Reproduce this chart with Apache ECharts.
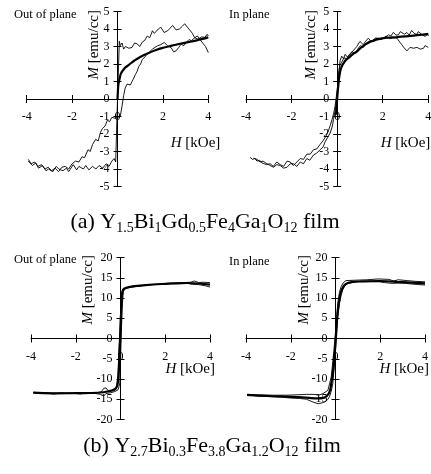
<!DOCTYPE html>
<html><head><meta charset="utf-8">
<script src="https://cdn.jsdelivr.net/npm/echarts@6.0.0/dist/echarts.min.js"></script>
<style>html,body{margin:0;padding:0;background:#fff}#c{width:431px;height:474px}</style>
</head><body><div id="c"></div>
<script>
// ---------- axis ranges / ticks ----------
const hAxis = {min: -4, max: 4, step: 2};
const mAxisA = {min: -5, max: 5, step: 1};
const mAxisB = {min: -20, max: 20, step: 5};

// ---------- texts ----------
const panelTitles = ['Out of plane', 'In plane', 'Out of plane', 'In plane'];
const captionA = '(a) Y{s|1.5}Bi{s|1}Gd{s|0.5}Fe{s|4}Ga{s|1}O{s|12} film';
const captionB = '(b) Y{s|2.7}Bi{s|0.3}Fe{s|3.8}Ga{s|1.2}O{s|12} film';

// ---------- (a) out of plane ----------
const aOutBranch1 = [[-3.93,-3.55],[-3.75,-3.8],[-3.6,-3.65],[-3.48,-3.95],[-3.3,-3.8],[-3.15,-4.1],[-3.04,-4.0],[-2.85,-4.15],[-2.7,-3.85],[-2.59,-4.0],[-2.4,-4.1],[-2.25,-3.95],[-2.15,-4.15],[-1.95,-3.75],[-1.8,-4.05],[-1.7,-3.85],[-1.5,-4.0],[-1.4,-3.8],[-1.26,-4.05],[-1.1,-3.85],[-0.95,-4.0],[-0.81,-3.8],[-0.65,-3.95],[-0.5,-3.7],[-0.37,-3.85],[-0.25,-3.55],[-0.15,-3.4],[-0.08,-3.6],[0.0,0.0],[0.08,3.3],[0.12,3.05],[0.2,3.2],[0.27,2.85],[0.35,3.0],[0.42,3.1],[0.5,2.9],[0.64,2.95],[0.75,3.2],[0.87,3.15],[0.98,3.0],[1.09,3.25],[1.2,3.35],[1.31,3.6],[1.42,3.5],[1.54,3.9],[1.62,3.75],[1.69,3.65],[1.8,4.0],[1.91,4.1],[2.05,3.8],[2.21,3.9],[2.32,4.05],[2.43,4.2],[2.58,3.95],[2.73,4.0],[2.85,4.15],[2.96,4.3],[3.08,4.1],[3.18,3.95],[3.3,3.75],[3.4,3.5],[3.52,3.6],[3.63,3.4],[3.7,3.45],[3.78,3.15],[3.88,3.0],[4.0,2.65]];
const aOutBranch2 = [[-3.93,-3.45],[-3.8,-3.7],[-3.65,-3.6],[-3.5,-3.85],[-3.35,-3.75],[-3.2,-4.0],[-3.05,-3.9],[-2.9,-4.1],[-2.75,-3.95],[-2.6,-4.15],[-2.45,-3.9],[-2.3,-3.85],[-2.15,-4.0],[-2.0,-3.7],[-1.85,-3.55],[-1.7,-3.6],[-1.56,-3.3],[-1.45,-3.35],[-1.3,-2.9],[-1.2,-3.0],[-1.1,-2.6],[-0.96,-2.3],[-0.85,-2.4],[-0.75,-1.9],[-0.67,-1.7],[-0.55,-1.55],[-0.44,-1.2],[-0.35,-1.3],[-0.25,-1.05],[-0.1,-1.1],[0.12,-1.0],[0.2,-0.4],[0.27,0.2],[0.34,0.63],[0.42,0.85],[0.49,0.92],[0.57,0.8],[0.64,1.0],[0.72,1.2],[0.79,1.4],[0.87,1.6],[0.94,1.87],[1.02,2.0],[1.09,2.25],[1.2,2.4],[1.31,2.56],[1.42,2.7],[1.54,2.85],[1.65,2.95],[1.76,3.04],[1.9,3.1],[2.06,3.23],[2.2,3.05],[2.36,2.94],[2.47,2.7],[2.58,2.75],[2.7,2.95],[2.8,3.13],[2.92,3.05],[3.03,3.23],[3.15,3.4],[3.25,3.33],[3.4,3.5],[3.55,3.42],[3.7,3.55],[3.85,3.52],[3.95,3.7],[4.0,3.6]];
const aOutMean = [[0.0,0.0],[0.02,0.5],[0.04,0.83],[0.1,1.2],[0.15,1.45],[0.25,1.65],[0.34,1.79],[0.5,1.95],[0.72,2.17],[1.0,2.4],[1.31,2.6],[1.7,2.8],[2.06,2.94],[2.4,3.05],[2.8,3.17],[3.2,3.27],[3.55,3.37],[3.8,3.45],[4.0,3.52]];

// ---------- (a) in plane ----------
const aInBranch1 = [[-3.82,-3.33],[-3.72,-3.45],[-3.6,-3.4],[-3.52,-3.55],[-3.4,-3.5],[-3.3,-3.65],[-3.23,-3.55],[-3.1,-3.75],[-2.94,-3.7],[-2.8,-3.85],[-2.65,-3.6],[-2.5,-3.75],[-2.35,-3.85],[-2.2,-3.55],[-2.06,-3.6],[-1.92,-3.8],[-1.77,-3.6],[-1.62,-3.4],[-1.48,-3.45],[-1.33,-3.15],[-1.18,-3.15],[-1.04,-2.9],[-0.89,-2.85],[-0.75,-2.6],[-0.6,-2.35],[-0.48,-2.1],[-0.38,-1.8],[-0.3,-1.5],[-0.23,-1.2],[-0.15,-0.8],[-0.09,-0.4],[0.0,0.5],[0.06,1.3],[0.13,2.2],[0.2,2.45],[0.28,2.3],[0.35,2.55],[0.45,2.4],[0.57,2.6],[0.7,2.75],[0.86,3.0],[1.0,3.29],[1.15,3.1],[1.25,3.3],[1.37,3.48],[1.48,3.3],[1.59,3.29],[1.7,3.45],[1.81,3.48],[1.92,3.4],[2.03,3.5],[2.15,3.55],[2.25,3.67],[2.36,3.6],[2.47,3.81],[2.58,3.65],[2.69,3.67],[2.77,3.85],[2.84,3.94],[2.95,3.7],[3.06,3.8],[3.16,3.65],[3.27,3.92],[3.38,3.75],[3.49,3.69],[3.56,3.85],[3.64,3.81],[3.75,3.65],[3.86,3.58],[3.97,3.7],[4.0,3.6]];
const aInBranch2 = [[-3.67,-3.38],[-3.52,-3.45],[-3.38,-3.6],[-3.25,-3.55],[-3.08,-3.7],[-2.94,-3.8],[-2.79,-3.9],[-2.65,-3.75],[-2.5,-3.8],[-2.35,-3.95],[-2.2,-3.9],[-2.06,-3.7],[-1.92,-3.7],[-1.77,-3.85],[-1.62,-3.6],[-1.48,-3.7],[-1.33,-3.4],[-1.2,-3.5],[-1.04,-3.2],[-0.9,-3.1],[-0.75,-2.9],[-0.62,-2.75],[-0.53,-2.45],[-0.42,-2.2],[-0.31,-1.95],[-0.22,-1.6],[-0.16,-1.17],[-0.08,-0.6],[-0.01,0.0],[0.04,0.9],[0.07,1.52],[0.12,1.9],[0.2,2.1],[0.3,2.35],[0.42,2.3],[0.55,2.5],[0.65,2.7],[0.78,2.6],[0.9,2.85],[1.02,3.05],[1.15,2.95],[1.28,3.2],[1.4,3.3],[1.55,3.35],[1.7,3.5],[1.85,3.4],[2.0,3.45],[2.15,3.6],[2.3,3.45],[2.45,3.5],[2.62,3.48],[2.75,3.25],[2.84,3.1],[2.92,2.95],[2.98,2.9],[3.06,2.75],[3.13,2.81],[3.2,2.95],[3.27,3.0],[3.35,2.9],[3.42,2.81],[3.5,2.95],[3.57,3.0],[3.65,2.85],[3.72,2.95],[3.79,2.9],[3.86,3.05],[3.93,3.1],[4.0,2.95]];
const aInMean = [[-0.05,-0.9],[0.0,0.0],[0.06,0.88],[0.13,1.56],[0.2,1.85],[0.28,2.04],[0.4,2.25],[0.57,2.42],[0.7,2.58],[0.86,2.71],[1.0,2.88],[1.15,3.04],[1.35,3.2],[1.59,3.33],[1.8,3.42],[2.03,3.48],[2.3,3.51],[2.62,3.54],[3.0,3.58],[3.35,3.62],[3.7,3.67],[4.0,3.72]];

// ---------- (b) out of plane ----------
const bOutBranch1 = [[-3.9,-13.4],[-3.6,-13.6],[-3.3,-13.5],[-3.0,-13.7],[-2.7,-13.5],[-2.4,-13.6],[-2.1,-13.5],[-1.8,-13.7],[-1.5,-13.4],[-1.2,-13.6],[-1.0,-13.3],[-0.86,-13.2],[-0.75,-12.3],[-0.65,-12.2],[-0.55,-12.9],[-0.41,-12.8],[-0.3,-12.4],[-0.19,-12.1],[-0.12,-9.5],[-0.06,-2],[0.0,6],[0.04,11.2],[0.1,12.1],[0.33,12.6],[0.6,12.8],[0.92,13.0],[1.3,13.3],[1.66,13.4],[2.0,13.5],[2.4,13.6],[2.8,13.8],[3.14,13.9],[3.3,14.2],[3.5,13.8],[3.7,13.9],[4.0,13.8]];
const bOutBranch2 = [[-3.9,-13.3],[-3.6,-13.4],[-3.0,-13.5],[-2.4,-13.4],[-1.8,-13.5],[-1.2,-13.5],[-0.9,-13.8],[-0.75,-14.2],[-0.65,-13.6],[-0.45,-13.4],[-0.25,-13.1],[-0.1,-12.6],[-0.03,-11],[0.02,-2],[0.07,7],[0.12,11.5],[0.2,12.3],[0.5,12.7],[1.0,13.1],[1.5,13.3],[2.0,13.5],[2.5,13.5],[3.0,13.6],[3.2,13.4],[3.5,13.3],[3.8,13.0],[4.0,12.7]];
const bOutMean = [[-3.9,-13.35],[-3.0,-13.55],[-2.0,-13.5],[-1.0,-13.4],[-0.5,-13.0],[-0.2,-12.3],[-0.1,-10],[-0.05,-4],[0.0,2],[0.05,9],[0.1,11.8],[0.3,12.6],[1.0,13.1],[2.0,13.5],[3.0,13.7],[4.0,13.3]];

// ---------- (b) in plane ----------
const bInBranch1 = [[-3.95,-14.0],[-3.6,-14.1],[-3.2,-14.3],[-2.77,-14.4],[-2.4,-14.5],[-2.0,-14.7],[-1.6,-14.8],[-1.3,-15.0],[-1.0,-15.7],[-0.78,-16.1],[-0.6,-15.9],[-0.49,-15.7],[-0.35,-15.1],[-0.27,-14.4],[-0.19,-13.0],[-0.12,-11.1],[-0.08,-8.5],[-0.04,-6.2],[0.03,0.4],[0.1,5.4],[0.18,8.7],[0.25,10.6],[0.32,12.0],[0.42,13.0],[0.55,13.6],[0.91,14.0],[1.4,14.1],[1.95,14.0],[2.2,13.8],[2.54,13.6],[2.8,13.7],[3.13,13.6],[3.5,13.4],[4.0,13.2]];
const bInBranch2 = [[-3.95,-13.8],[-3.4,-13.9],[-2.77,-14.0],[-2.2,-14.0],[-1.7,-13.9],[-1.3,-13.8],[-1.0,-13.8],[-0.7,-13.9],[-0.56,-13.6],[-0.34,-12.8],[-0.19,-9.5],[-0.07,-2.9],[0.03,3.7],[0.1,8.7],[0.18,11.5],[0.25,12.8],[0.35,13.8],[0.47,14.3],[0.91,14.4],[1.4,14.5],[1.9,14.7],[2.39,14.6],[2.6,14.2],[2.8,14.5],[3.2,14.3],[3.6,14.1],[4.0,14.0]];
const bInMean = [[-3.95,-13.9],[-3.0,-14.2],[-2.0,-14.4],[-1.3,-14.6],[-0.8,-14.8],[-0.5,-14.6],[-0.3,-13.6],[-0.2,-11.5],[-0.1,-7.5],[0.0,-1.2],[0.1,6.5],[0.2,10.5],[0.3,12.3],[0.45,13.4],[0.7,13.9],[1.2,14.1],[2.0,14.2],[3.0,13.9],[4.0,13.6]];

// ---------- layout ----------
const F = 'Liberation Serif';
const panels = [
  {grid:{left:26.7, top:11.5, width:181.6, height:175}, m:mAxisA, xn:{gap:12, pad:37}, yn:{gap:1.5, pad:16}, title:{x:14, y:16.5},
   lines:[aOutBranch1, aOutBranch2], mean:aOutMean},
  {grid:{left:246, top:11.5, width:182.3, height:175}, m:mAxisA, xn:{gap:2, pad:37}, yn:{gap:1.5, pad:19}, title:{x:229, y:16.5},
   lines:[aInBranch1, aInBranch2], mean:aInMean},
  {grid:{left:31, top:257.5, width:179, height:162}, m:mAxisB, xn:{gap:5, pad:23}, yn:{gap:2.5, pad:25}, title:{x:14, y:261},
   lines:[bOutBranch1, bOutBranch2], mean:bOutMean},
  {grid:{left:246, top:257.5, width:179, height:162}, m:mAxisB, xn:{gap:4, pad:23}, yn:{gap:2.5, pad:24}, title:{x:229, y:263},
   lines:[bInBranch1, bInBranch2], mean:bInMean}
];

const grid = [], xAxis = [], yAxis = [], series = [], graphic = [];
const tickStyle = {color:'#000', width:1};
panels.forEach((p, i) => {
  grid.push(Object.assign({containLabel:false, outerBoundsMode:'none'}, p.grid));
  const xi = xAxis.length, yi = yAxis.length;
  // axes cross at the centre of each symmetric range (value 0)
  const xOff = -p.grid.height / 2, yOff = -p.grid.width / 2;
  xAxis.push({
    type:'value', gridIndex:i, min:hAxis.min, max:hAxis.max, interval:hAxis.step, position:'bottom', offset:xOff,
    axisLine:{show:true, onZero:false, lineStyle:tickStyle},
    axisTick:{show:true, length:4, lineStyle:tickStyle},
    axisLabel:{color:'#000', fontFamily:F, fontSize:12, margin:12},
    splitLine:{show:false},
    name:'{i|H} [kOe]', nameLocation:'end', nameGap:p.xn.gap, nameMoveOverlap:false,
    nameTextStyle:{color:'#000', fontFamily:F, fontSize:15, align:'right', verticalAlign:'top', padding:[p.xn.pad,0,0,0],
      rich:{i:{fontStyle:'italic', fontFamily:F, fontSize:15, color:'#000'}}}
  });
  xAxis.push({
    type:'value', gridIndex:i, min:hAxis.min, max:hAxis.max, interval:hAxis.step, position:'top', offset:xOff,
    axisLine:{show:false, onZero:false},
    axisTick:{show:true, length:4, lineStyle:tickStyle},
    axisLabel:{show:false}, splitLine:{show:false}
  });
  yAxis.push({
    type:'value', gridIndex:i, min:p.m.min, max:p.m.max, interval:p.m.step, position:'left', offset:yOff,
    axisLine:{show:true, onZero:false, lineStyle:tickStyle},
    axisTick:{show:true, length:4, lineStyle:tickStyle},
    axisLabel:{color:'#000', fontFamily:F, fontSize:12, margin:8},
    splitLine:{show:false},
    name:'{i|M} [emu/cc]', nameLocation:'end', nameGap:p.yn.gap, nameRotate:90, nameMoveOverlap:false,
    nameTextStyle:{color:'#000', fontFamily:F, fontSize:15, align:'right', verticalAlign:'bottom', padding:[0,0,p.yn.pad,0],
      rich:{i:{fontStyle:'italic', fontFamily:F, fontSize:15, color:'#000'}}}
  });
  yAxis.push({
    type:'value', gridIndex:i, min:p.m.min, max:p.m.max, interval:p.m.step, position:'right', offset:yOff,
    axisLine:{show:false, onZero:false},
    axisTick:{show:true, length:4, lineStyle:tickStyle},
    axisLabel:{show:false}, splitLine:{show:false}
  });
  p.lines.forEach(d => series.push({
    type:'line', xAxisIndex:xi, yAxisIndex:yi, data:d, showSymbol:false, smooth:false,
    lineStyle:{color:'#000', width:0.9}, z:3
  }));
  series.push({
    type:'line', xAxisIndex:xi, yAxisIndex:yi, data:p.mean, showSymbol:false, smooth:true,
    lineStyle:{color:'#000', width:2.2}, z:4
  });
  graphic.push({type:'text', left:p.title.x, top:p.title.y - 8,
    style:{text:panelTitles[i], font:'12.5px "Liberation Serif"', fill:'#000'}});
});

const capRich = {s:{fontFamily:F, fontSize:14, lineHeight:14, verticalAlign:'bottom', fill:'#000'}};
graphic.push({type:'text', x:205, y:222, style:{text:captionA, fontFamily:F, fontSize:22, lineHeight:26, fill:'#000', align:'center', verticalAlign:'middle', rich:capRich}});
graphic.push({type:'text', x:212, y:446, style:{text:captionB, fontFamily:F, fontSize:22, lineHeight:26, fill:'#000', align:'center', verticalAlign:'middle', rich:capRich}});

const chart = echarts.init(document.getElementById('c'), null, {renderer:'canvas'});
chart.setOption({
  backgroundColor:'#fff', animation:false,
  grid, xAxis, yAxis, series, graphic
});
</script>
</body></html>
